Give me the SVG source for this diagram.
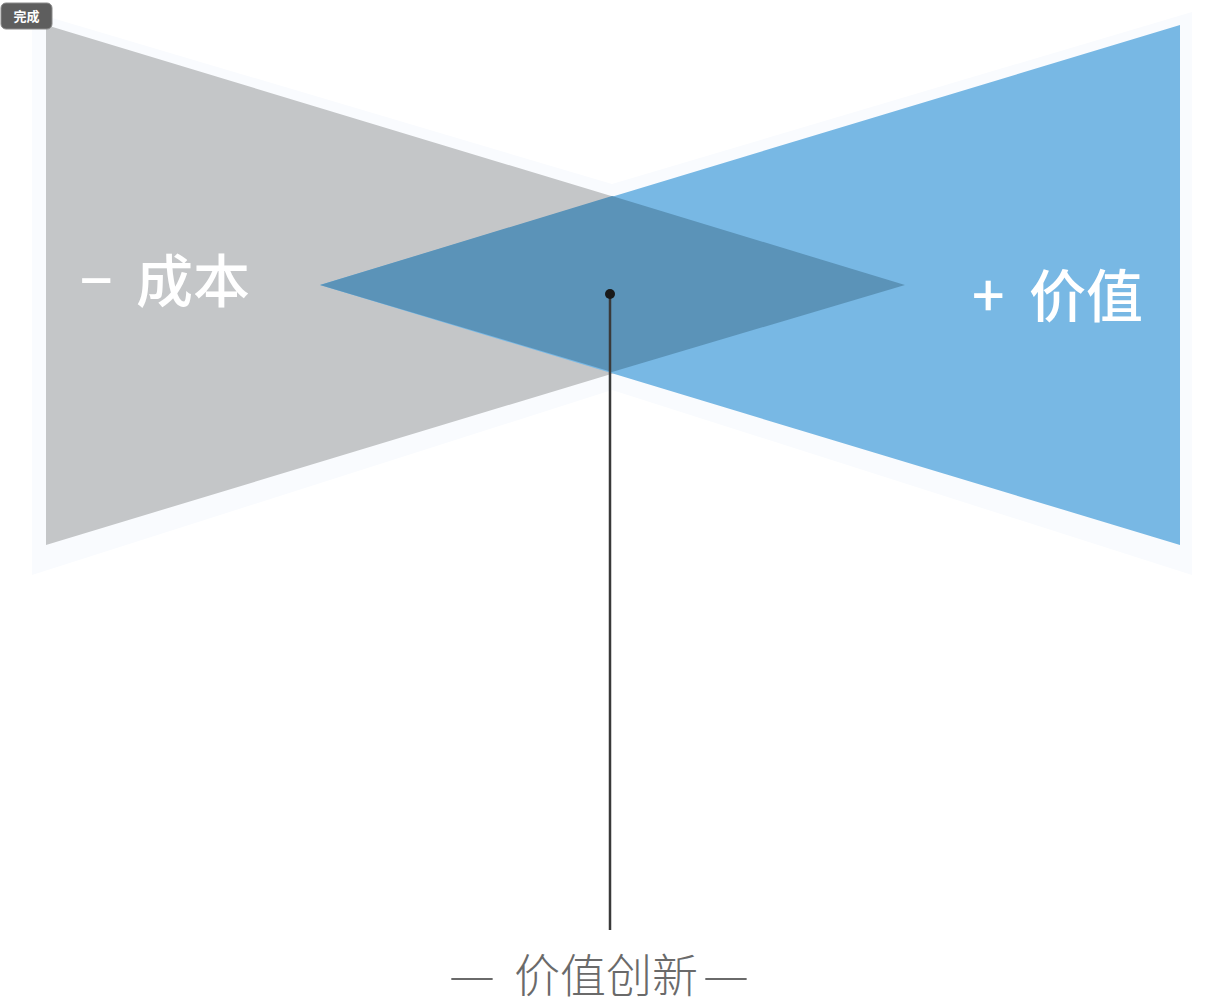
<svg xmlns="http://www.w3.org/2000/svg" width="1218" height="1004" viewBox="0 0 1218 1004">
<style>
.lbl{font-family:"Noto Sans CJK SC","Noto Sans",sans-serif;fill:#ffffff;font-weight:500;}
.cap{font-family:"Noto Sans CJK SC","Noto Sans",sans-serif;fill:#6a6a6a;font-weight:300;font-size:46px;}
</style>
<rect width="1218" height="1004" fill="#ffffff"/>
<g id="halo" fill="#f9fbfe">
<polygon points="32,12 612,184 1192,12 1192,575 612,390 32,575"/>
</g>
<g id="cost">
<polygon points="46,25 46,545 905,285" fill="#c4c6c8"/>
<text class="lbl" y="302" font-size="57"><tspan x="80">−</tspan><tspan x="136">成本</tspan></text>
</g>
<g id="value">
<polygon points="1180,25 1180,545 320,285" fill="#78b8e4"/>
<text class="lbl" y="317" font-size="57"><tspan x="972">+</tspan><tspan x="1029">价值</tspan></text>
</g>
<g id="overlap">
<polygon points="320,285 612,196 905,285 612,372" fill="#5b93b8"/>
</g>
<g id="connectors">
<line x1="610" y1="294" x2="610" y2="930" stroke="#3a3a3a" stroke-width="2.5"/>
<circle cx="610" cy="294" r="5" fill="#1a1a1a"/>
</g>
<g id="innovation">
<text class="cap" y="992"><tspan x="449" textLength="46" lengthAdjust="spacingAndGlyphs">—</tspan><tspan x="514">价值创新</tspan><tspan x="703" textLength="46" lengthAdjust="spacingAndGlyphs">—</tspan></text>
</g>
<g id="done-button">
<rect x="1" y="3" width="51" height="26" rx="5" fill="#5e5e5e" stroke="#8a8a8a" stroke-width="1"/>
<text x="26.5" y="21" font-size="13" font-weight="bold" text-anchor="middle" font-family="'Noto Sans CJK SC',sans-serif" fill="#ffffff">完成</text>
</g>
</svg>
